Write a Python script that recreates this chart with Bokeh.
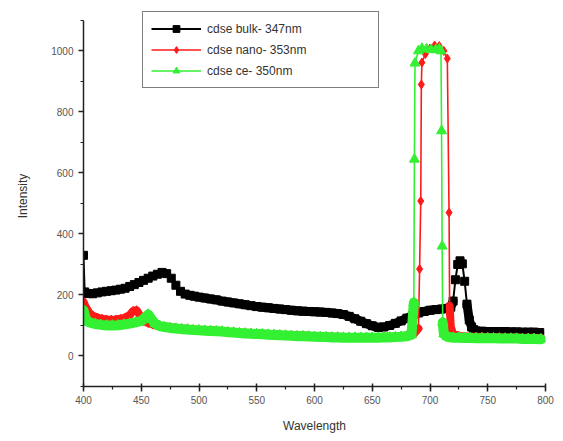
from bokeh.plotting import figure
from bokeh.models import FixedTicker, Legend, LegendItem, Range1d
from bokeh.embed import file_html
from bokeh.resources import INLINE

# ---- data ----
bulk_wl = [400, 401, 404, 408, 412, 416, 420, 424, 428, 432,
           436, 440, 444, 448, 452, 456, 460, 464, 468, 472,
           476, 480, 484, 488, 492, 496, 500, 505, 510, 515,
           520, 525, 530, 535, 540, 545, 550, 555, 560, 565,
           570, 575, 580, 585, 590, 595, 600, 605, 610, 615,
           620, 625, 630, 635, 640, 645, 650, 655, 660, 665,
           670, 675, 680, 685, 690, 695, 700, 705, 710, 714,
           718, 720, 722, 724, 726, 728, 730, 732, 734, 736,
           738, 740, 745, 750, 755, 760, 765, 770, 775, 780,
           785, 790, 795]
bulk_int = [330, 210, 205, 204, 207, 210, 212, 214, 216, 219,
            222, 228, 234, 241, 248, 255, 262, 268, 274, 270,
            255, 232, 212, 203, 199, 196, 193, 190, 187, 184,
            180, 177, 174, 171, 168, 165, 162, 160, 158, 156,
            154, 152, 150, 148, 147, 146, 145, 144, 143, 141,
            139, 136, 130, 122, 114, 106, 99, 94, 95, 100,
            107, 115, 124, 133, 141, 146, 150, 152, 154, 156,
            160, 180, 250, 300, 312, 302, 245, 170, 118, 95,
            86, 82, 81, 80, 80, 80, 80, 79, 79, 78,
            78, 78, 77]

nano_wl = [400, 402, 405, 408, 412, 416, 420, 424, 428, 432,
           436, 440, 443, 446, 449, 452, 456, 460, 465, 470,
           475, 480, 485, 490, 495, 500, 505, 510, 515, 520,
           525, 530, 535, 540, 545, 550, 555, 560, 565, 570,
           575, 580, 585, 590, 595, 600, 605, 610, 615, 620,
           625, 630, 635, 640, 645, 650, 655, 660, 665, 670,
           675, 680, 686, 690, 691, 692, 692.5, 693, 696, 700,
           704, 708, 712, 715, 716.5, 717, 718, 720, 725, 730,
           735, 740, 745, 750, 755, 760, 765, 770, 775, 780,
           785, 790, 796]
nano_int = [178, 160, 142, 132, 126, 122, 120, 119, 120, 122,
            126, 134, 148, 150, 132, 115, 108, 103, 98, 97,
            94, 92, 90, 89, 87, 86, 85, 84, 83, 82,
            80, 79, 77, 76, 75, 74, 73, 72, 71, 70,
            69, 68, 67, 67, 66, 65, 64, 64, 63, 63,
            62, 62, 62, 62, 62, 62, 62, 63, 63, 64,
            65, 67, 72, 90, 285, 508, 890, 962, 990, 1008,
            1018, 1016, 1000, 975, 470, 164, 95, 72, 66, 64,
            64, 63, 63, 62, 62, 62, 61, 61, 61, 60,
            60, 60, 59]

ce_wl = [400, 402, 405, 410, 415, 420, 425, 430, 435, 440,
         445, 450, 453, 456, 459, 462, 466, 470, 475, 480,
         485, 490, 495, 500, 505, 510, 515, 520, 525, 530,
         535, 540, 545, 550, 555, 560, 565, 570, 575, 580,
         585, 590, 595, 600, 605, 610, 615, 620, 625, 630,
         635, 640, 645, 650, 655, 660, 665, 670, 675, 680,
         684, 686, 686.5, 687, 690, 693, 697, 701, 705, 708,
         709.5, 710, 710.5, 711, 712, 715, 720, 725, 730, 735,
         740, 745, 750, 755, 760, 765, 770, 775, 780, 785,
         790, 796]
ce_int = [150, 122, 110, 105, 102, 100, 100, 101, 103, 106,
          110, 115, 125, 136, 120, 106, 98, 95, 92, 90,
          88, 87, 85, 84, 83, 82, 81, 80, 78, 77,
          75, 74, 73, 72, 71, 70, 69, 68, 67, 66,
          65, 65, 64, 63, 62, 62, 61, 61, 60, 60,
          60, 60, 60, 60, 60, 61, 61, 62, 63, 65,
          70, 175, 645, 960, 1000, 1008, 1006, 1004, 1004, 1006,
          1000, 738, 360, 110, 72, 63, 60, 60, 59, 59,
          58, 58, 58, 58, 57, 57, 57, 57, 56, 56,
          56, 55]

series_labels = ["cdse bulk- 347nm", "cdse nano- 353nm", "cdse ce- 350nm"]
x_ticks = [400, 450, 500, 550, 600, 650, 700, 750, 800]
x_minor = [400, 425, 450, 475, 500, 525, 550, 575, 600, 625, 650, 675, 700, 725, 750, 775, 800]
y_ticks = [0, 200, 400, 600, 800, 1000]
y_minor = [-100, 100, 300, 500, 700, 900, 1100]

assert len(bulk_wl) == len(bulk_int)
assert len(nano_wl) == len(nano_int)
assert len(ce_wl) == len(ce_int)

FONT = "Liberation Sans"
BLACK, RED, GREEN = "black", "#ff1a1a", "#33f033"


def dense_part(vals, limit):
    # keep only the low, densely sampled part of a trace (breaks at the peaks)
    return [v if v < limit else float("nan") for v in vals]


p = figure(width=563, height=441, output_backend="svg", toolbar_location=None,
           x_range=Range1d(400, 800), y_range=Range1d(-100, 1149),
           min_border_left=83, min_border_right=18, min_border_top=5,
           min_border_bottom=55)
p.outline_line_color = None
p.grid.visible = False

# black
p.line(bulk_wl, dense_part(bulk_int, 200), line_color=BLACK, line_width=9,
       line_join="round", line_cap="round")
bl = p.line(bulk_wl, bulk_int, line_color=BLACK, line_width=2)
bm = p.scatter(bulk_wl, bulk_int, marker="square", size=8,
               fill_color=BLACK, line_color=BLACK)
# red
p.line(nano_wl, dense_part(nano_int, 200), line_color=RED, line_width=8,
       line_join="round", line_cap="round")
nl = p.line(nano_wl, nano_int, line_color=RED, line_width=1.6)
nm = p.scatter(nano_wl, nano_int, marker="diamond", size=9,
               fill_color=RED, line_color=RED)
# green
p.line(ce_wl, dense_part(ce_int, 200), line_color=GREEN, line_width=10,
       line_join="round", line_cap="round")
cl = p.line(ce_wl, ce_int, line_color=GREEN, line_width=1.6)
cm = p.scatter(ce_wl, ce_int, marker="triangle", size=10,
               fill_color=GREEN, line_color=GREEN)

legend = Legend(items=[
    LegendItem(label=series_labels[0], renderers=[bl, bm]),
    LegendItem(label=series_labels[1], renderers=[nl, nm]),
    LegendItem(label=series_labels[2], renderers=[cl, cm]),
], location=(59, 298))
legend.glyph_width = 50
legend.glyph_height = 17
legend.spacing = 4
legend.padding = 8
legend.margin = 0
legend.label_standoff = 6
legend.label_width = 163
legend.label_text_font = FONT
legend.label_text_font_size = "12px"
legend.label_text_color = "#333333"
legend.border_line_color = "black"
legend.border_line_width = 1.5
legend.background_fill_alpha = 1.0
p.add_layout(legend)

for ax in (p.xaxis[0], p.yaxis[0]):
    ax.axis_line_color = "#222222"
    ax.axis_line_width = 1.5
    ax.major_tick_line_color = "#222222"
    ax.major_tick_line_width = 1.5
    ax.minor_tick_line_color = "#222222"
    ax.minor_tick_line_width = 1.2
    ax.major_label_text_font = FONT
    ax.major_label_text_font_size = "10px"
    ax.major_label_text_color = "#555555"
    ax.axis_label_text_font = FONT
    ax.axis_label_text_font_size = "12px"
    ax.axis_label_text_font_style = "normal"
    ax.axis_label_text_color = "#333333"

p.yaxis[0].bounds = (-100, 1100)
p.xaxis[0].ticker = FixedTicker(ticks=x_ticks, minor_ticks=x_minor)
p.yaxis[0].ticker = FixedTicker(ticks=y_ticks, minor_ticks=y_minor)
p.xaxis[0].axis_label = "Wavelength"
p.yaxis[0].axis_label = "Intensity"
p.xaxis[0].major_tick_out = 5
p.xaxis[0].major_tick_in = 3
p.xaxis[0].minor_tick_out = 3
p.xaxis[0].minor_tick_in = 0
p.yaxis[0].major_tick_out = 5
p.yaxis[0].major_tick_in = 0
p.yaxis[0].minor_tick_out = 3
p.yaxis[0].minor_tick_in = 0
p.xaxis[0].major_label_standoff = 4
p.xaxis[0].axis_label_standoff = 12
p.yaxis[0].major_label_standoff = 5
p.yaxis[0].axis_label_standoff = 18

open("out.html", "w").write(file_html(p, INLINE))
